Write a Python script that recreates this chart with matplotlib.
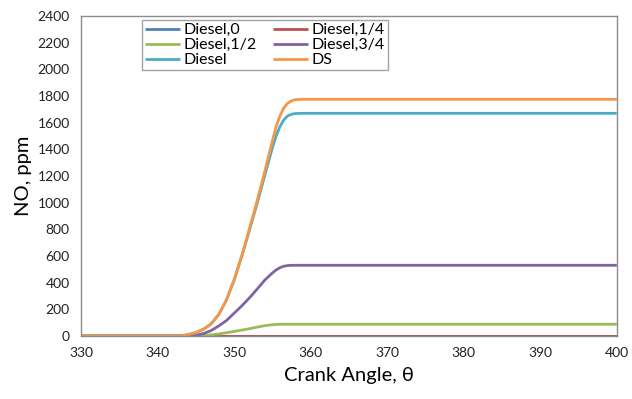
import numpy as np
import matplotlib
matplotlib.use("Agg")
from matplotlib import pyplot as plt

# crank angle (deg) and NO concentration (ppm) for each case
theta = [330, 340, 343, 344, 345, 346, 347, 348, 349, 350, 351, 352, 353,
         354, 355, 355.5, 356, 356.5, 357, 357.5, 358, 359, 360, 370, 380, 390, 400]

diesel_0 = [0] * len(theta)
diesel_14 = [0] * len(theta)
diesel_12 = [0, 0, 0, 0, 0, 3, 8, 15, 24, 34, 44, 54, 66,
             77, 84, 86.5, 88, 88, 88, 88, 88, 88, 88, 88, 88, 88, 88]
diesel_34 = [0, 0, 0, 0, 5, 18, 40, 75, 115, 170, 225, 285, 350,
             418, 472, 495, 512, 523, 528, 530, 530, 530, 530, 530, 530, 530, 530]
diesel = [0, 0, 0, 10, 25, 50, 90, 160, 268, 415, 595, 790, 990,
          1200, 1410, 1500, 1570, 1620, 1650, 1663, 1668, 1670, 1670, 1670, 1670, 1670, 1670]
ds = [0, 0, 0, 10, 25, 50, 90, 160, 270, 420, 600, 800, 1010,
      1230, 1460, 1570, 1650, 1710, 1745, 1763, 1772, 1775, 1775, 1775, 1775, 1775, 1775]

series = [
    ("Diesel,0", diesel_0, "#4F81BD"),
    ("Diesel,1/4", diesel_14, "#C0504D"),
    ("Diesel,1/2", diesel_12, "#9BBB59"),
    ("Diesel,3/4", diesel_34, "#8064A2"),
    ("Diesel", diesel, "#4BACC6"),
    ("DS", ds, "#F79646"),
]

plt.rcParams["font.family"] = ["Lato", "DejaVu Sans"]

fig = plt.figure(figsize=(6.32, 3.99), dpi=100)
ax = fig.add_axes([0.128, 0.158, 0.848, 0.802])

lines = []
for name, vals, col in series:
    ln, = ax.plot(theta, vals, color=col, lw=2.0, label=name,
                  solid_capstyle="butt", solid_joinstyle="round")
    lines.append(ln)

ax.set_xlim(330, 400)
ax.set_ylim(0, 2400)
ax.set_xticks(np.arange(330, 401, 10))
ax.set_yticks(np.arange(0, 2401, 200))
ax.tick_params(length=0, labelsize=10, pad=8, colors="#222222")
for s in ax.spines.values():
    s.set_color("#8c8c8c")
    s.set_linewidth(1.0)

ax.set_xlabel("Crank Angle, θ", fontsize=14.5, labelpad=6)
ax.set_ylabel("NO, ppm", fontsize=14.5, labelpad=4)

# legend filled row by row
order = [0, 2, 4, 1, 3, 5]
leg = ax.legend([lines[i] for i in order], [series[i][0] for i in order],
                ncol=2, loc="upper left", bbox_to_anchor=(0.114, 0.988),
                fontsize=11.5, frameon=True, fancybox=False,
                handlelength=2.2, handletextpad=0.2, columnspacing=1.0,
                labelspacing=0.05, borderpad=0.2, borderaxespad=0)
leg.get_frame().set_edgecolor("#8c8c8c")
leg.get_frame().set_linewidth(1.0)

fig.savefig("out.png", dpi=100)
